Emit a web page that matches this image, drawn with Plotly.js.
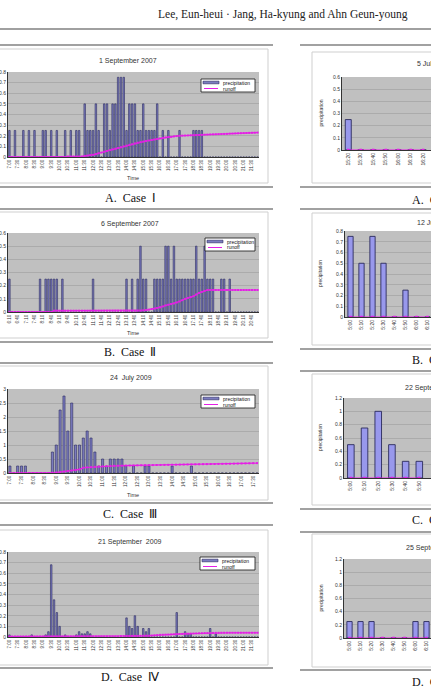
<!DOCTYPE html>
<html><head><meta charset="utf-8">
<script src="https://cdn.plot.ly/plotly-3.0.1.min.js"></script>
<style>html,body{margin:0;padding:0;overflow:hidden;background:#fff;width:431px;height:686px}#chart{width:600px;height:686px}</style>
</head><body><div id="chart"></div><script>
// ---------- DATA ----------
function times(start, n, step){const p=start.split(':').map(Number);const t=p[0]*60+p[1];const o=[];for(let i=0;i<n;i++){const v=t+i*step;o.push(Math.floor(v/60)+':'+String(v%60).padStart(2,'0'));}return o;}

// Case I : 1 September 2007
const catA = times('7:00', 90, 10);
const ticksA = ['7:00','7:30','8:00','8:30','9:00','9:30','10:00','10:30','11:00','11:30','12:00','12:30','13:00','13:30','14:00','14:30','15:00','15:30','16:00','16:30','17:00','17:30','18:00','18:30','19:00','19:30','20:00','20:30','21:00','21:30'];
const precA = [.25,0,.25,0,0,.25,0,.25,0,.25, 0,0,.25,.25,0,.25,0,.25,0,0, .25,0,.25,0,.25,.25,0,.5,.25,.25,
 .25,.5,.25,0,.5,.5,.25,.5,.5,.75, .75,.75,.25,.5,.5,.5,.25,.25,.5,.25, .25,.25,.25,.5,0,.25,0,.25,0,0,
 0,.25,0,0,0,0,.25,.25,.25,.25, 0,0,0,0,0,0,0,0,0,0, 0,0,0,0,0,0,0,0,0,0];
const runA = [0,0,0,0,0,0,0,0,0,0, 0,0,0,0,0,0,0,0,0,0, 0,.005,.005,.005,.005,.005,.005,.01,.013,.017,
 .02,.027,.035,.042,.05,.057,.065,.072,.078,.085, .092,.1,.107,.114,.12,.128,.135,.14,.145,.15,
 .155,.16,.165,.17,.175,.18,.185,.188,.19,.194, .197,.2,.201,.202,.203,.204,.205,.206,.207,.208,
 .21,.211,.212,.213,.214,.215,.216,.217,.218,.22, .221,.222,.223,.224,.225,.226,.227,.228,.229,.23];

// Case II : 6 September 2007
const catB = times('6:10', 90, 10);
const ticksB = ['6:10','6:40','7:10','7:40','8:10','8:40','9:10','9:40','10:10','10:40','11:10','11:40','12:10','12:40','13:10','13:40','14:10','14:40','15:10','15:40','16:10','16:40','17:10','17:40','18:10','18:40','19:10','19:40','20:10','20:40'];
const precB = [.25,0,0,0,0,0,0,0,0,0, 0,.25,0,.25,.25,.25,.25,.25,0,.25, 0,0,0,0,0,0,0,0,0,0,
 .25,0,0,0,0,0,0,0,0,0, 0,0,.25,0,.25,0,.25,.5,.25,.25, 0,0,.25,.25,.25,.25,.5,.5,.25,.5,
 .25,.25,.25,.25,.25,.25,.25,.5,.25,.25, .5,.25,.25,.25,0,0,.25,.25,0,.25, 0,0,0,0,0,0,0,0,0,0];
const runB = [0,0,0,0,0,0,0,0,0,0, 0,0,0,0,0,0,.01,.01,.01,.01, .01,.01,.01,.01,.01,.01,.01,.01,.01,.01,
 .01,.01,.01,.01,.01,.01,.01,.01,.01,.01, .01,.01,.01,.01,.01,.01,.01,.01,.012,.015,
 .018,.022,.025,.03,.035,.042,.05,.055,.06,.065, .072,.08,.09,.1,.107,.113,.12,.133,.145,.153,
 .16,.167,.167,.167,.167,.167,.167,.167,.167,.167, .167,.167,.167,.167,.167,.167,.167,.167,.167,.167];

// Case III : 24 July 2009
const catC = times('7:00', 65, 10);
const ticksC = ['7:00','7:30','8:00','8:30','9:00','9:30','10:00','10:30','11:00','11:30','12:00','12:30','13:00','13:30','14:00','14:30','15:00','15:30','16:00','16:30','17:00','17:30'];
const precC = [.25,0,.25,.25,.25,0,0,0,0,0, 0,.75,1,2.25,2.75,1.5,2.5,1,1,1.25, 1.5,1.25,.75,.25,.5,.25,.5,.5,.5,.5,
 .25,0,.25,0,0,.25,.25,0,0,0, 0,0,.25,0,0,0,0,.25,0,0, 0,0,0,0,0,0,0,0,0,0, 0,0,0,0,0];
const runC = [0,0,0,0,0,0,0,0,0,0, 0,.01,.02,.035,.05,.07,.09,.11,.13,.19, .2,.21,.22,.23,.24,.245,.25,.255,.26,.262,
 .265,.268,.27,.272,.275,.277,.28,.282,.285,.287, .29,.292,.295,.297,.3,.302,.305,.307,.31,.312,
 .315,.317,.32,.322,.325,.327,.33,.332,.335,.337, .34,.343,.346,.35,.353];

// Case IV : 21 September 2009
const catD = times('7:00', 90, 10);
const ticksD = ticksA.slice();
const precD = [.02,0,0,0,0,0,0,0,.02,0, 0,0,0,.02,.05,.68,.35,.23,.1,0, .02,0,0,0,.02,.05,.03,.03,.05,.03,
 0,0,0,0,0,0,0,0,0,0, 0,0,.18,.1,.08,.2,.1,0,.08,.05, .08,0,0,0,0,0,0,0,0,0,
 .23,0,0,.05,.03,.03,0,0,0,0, 0,0,.08,0,.03,0,0,0,0,0, 0,0,0,0,0,0,0,0,0,0];
const runD = [.005,.005,.005,.005,.005,.005,.005,.005,.005,.005, .005,.005,.005,.005,.005,.005,.005,.005,.005,.005,
 .005,.005,.005,.005,.005,.005,.005,.005,.005,.005, .005,.005,.005,.005,.005,.005,.005,.005,.005,.005,
 .008,.008,.009,.009,.01,.01,.01,.011,.011,.012, .012,.014,.016,.018,.02,.021,.022,.023,.024,.025,
 .027,.028,.029,.03,.031,.032,.033,.034,.035,.036, .037,.037,.038,.038,.039,.039,.04,.04,.04,.04,
 .04,.04,.04,.04,.04,.04,.04,.04,.04,.04];

// right column cases
const catRA = ['15:20','15:30','15:40','15:50','16:00','16:10','16:20'];
const precRA = [0.25,0,0,0,0,0,0];
const runRA = [0,0,0,0,0,0,0];
const catRB = ['5:00','5:10','5:20','5:30','5:40','5:50','6:00','6:10'];
const precRB = [0.75,0.5,0.75,0.5,0,0.25,0,0];
const runRB = [0,0,0,0,0,0,0,0];
const catRC = ['5:00','5:10','5:20','5:30','5:40','5:50'];
const precRC = [0.5,0.75,1.0,0.5,0.25,0.25];
const runRC = [0,0,0,0,0,0];
const catRD = ['5:00','5:10','5:20','5:30','5:40','5:50','6:00','6:10'];
const precRD = [0.25,0.25,0.25,0,0,0,0.25,0.25];
const runRD = [0,0,0,0,0,0,0,0];

const titlesLeft = ['1 September 2007','6 September 2007','24  July 2009','21 September  2009'];
const captionsLeft = ['A.  Case  Ⅰ','B.  Case  Ⅱ','C.  Case  Ⅲ','D.  Case  Ⅳ'];
const titlesRight = ['5 July 2010','12 July 2010','22 September 2010','25 September 2010'];
const captionsRight = ['A.  Case  Ⅴ','B.  Case  Ⅵ','C.  Case  Ⅶ','D.  Case  Ⅷ'];
const header = 'Lee, Eun-heui · Jang, Ha-kyung and Ahn Geun-young';

// ---------- LAYOUT ----------
const W=600, H=686;
const X=p=>p/W, Y=p=>1-p/H;
const SANS='Liberation Sans, Arial, sans-serif', SERIF='Liberation Serif, Times New Roman, serif';
const BARFILL='#7c7cc0', BARLINE='#2a2a5c', BARFILL_R='#9898ec', RUN='#e61ee6';

const panels = [
 {cats:catA, prec:precA, run:runA, ticks:ticksA, x0:8, x1:259, top:72, bot:157, ymax:.8, dt:.1, bw:.55, side:'L', title:titlesLeft[0], ty:61, tx:128, leg:[201,255,79,92], time:178},
 {cats:catB, prec:precB, run:runB, ticks:ticksB, x0:8, x1:259, top:233, bot:312, ymax:.6, dt:.1, bw:.55, side:'L', title:titlesLeft[1], ty:224, tx:130, leg:[205,255,238,251], time:333},
 {cats:catC, prec:precC, run:runC, ticks:ticksC, x0:8, x1:259, top:389, bot:473, ymax:3, dt:.5, bw:.55, side:'L', title:titlesLeft[2], ty:378, tx:131, leg:[201,255,395,408], time:495},
 {cats:catD, prec:precD, run:runD, ticks:ticksD, x0:8, x1:259, top:552, bot:637, ymax:.8, dt:.1, bw:.55, side:'L', title:titlesLeft[3], ty:542, tx:130, leg:[200,255,557,570], time:null},
 {cats:catRA, prec:precRA, run:runRA, ticks:catRA, x0:342, x1:517, n:14, top:77, bot:150, ymax:.6, dt:.1, bw:.48, side:'R', title:titlesRight[0], ty:64, tx:415},
 {cats:catRB, prec:precRB, run:runRB, ticks:catRB, x0:345, x1:521, n:16, top:231, bot:317, ymax:.8, dt:.1, bw:.48, side:'R', title:titlesRight[1], ty:223, tx:415},
 {cats:catRC, prec:precRC, run:runRC, ticks:catRC, x0:344, x1:522, n:13, top:398, bot:478, ymax:1.2, dt:.2, bw:.48, side:'R', title:titlesRight[2], ty:388, tx:403},
 {cats:catRD, prec:precRD, run:runRD, ticks:catRD, x0:344, x1:520, n:16, top:559, bot:638, ymax:1.2, dt:.2, bw:.48, side:'R', title:titlesRight[3], ty:548, tx:404}
];

const data=[]; const layout={width:W,height:H,margin:{l:0,r:0,t:0,b:0},paper_bgcolor:'#fff',plot_bgcolor:'#c0c0c0',showlegend:false,font:{family:SANS,color:'#222'},shapes:[],annotations:[]};
const shp=(o)=>layout.shapes.push(Object.assign({xref:'paper',yref:'paper'},o));
const ann=(o)=>layout.annotations.push(Object.assign({xref:'paper',yref:'paper',showarrow:false},o));

panels.forEach((p,i)=>{
  const k=i+1, xs='x'+(k>1?k:''), ys='y'+(k>1?k:'');
  const L = p.side==='L';
  data.push({type:'bar',x:p.cats,y:p.prec,xaxis:xs,yaxis:ys,width:p.bw,marker:{color:L?BARFILL:BARFILL_R,line:{color:BARLINE,width:L?0.6:0.9}},hoverinfo:'skip'});
  data.push({type:'scatter',mode:'lines+markers',x:p.cats,y:p.run,xaxis:xs,yaxis:ys,line:{color:RUN,width:1.1},marker:{color:RUN,size:L?2:2.5,symbol:'square'},hoverinfo:'skip'});
  const n = p.n || p.cats.length;
  layout['xaxis'+(k>1?k:'')]={domain:[X(p.x0),X(p.x1)],anchor:ys,type:'category',range:[-0.5,n-0.5],tickmode:'array',tickvals:p.ticks,ticktext:p.ticks,tickangle:-90,tickfont:{size:L?4.5:5,color:'#333'},showgrid:false,showline:true,linecolor:'#333',linewidth:1,ticks:'',fixedrange:true,automargin:false};
  layout['yaxis'+(k>1?k:'')]={domain:[Y(p.bot),Y(p.top)],anchor:xs,range:[0,p.ymax],dtick:p.dt,tick0:0,showgrid:true,gridcolor:'#9c9c9c',gridwidth:0.6,zeroline:false,showline:true,linecolor:'#333',linewidth:1,ticks:'',tickfont:{size:5,color:'#333'},fixedrange:true,automargin:false};
  ann({x:X(p.tx),y:Y(p.ty),text:p.title,xanchor:L?'center':'left',yanchor:'middle',font:{size:7,family:SANS,color:'#333'}});
  if(L){
    const [a,b,c,d]=p.leg;
    shp({type:'rect',x0:X(a),x1:X(b),y0:Y(c),y1:Y(d),fillcolor:'#fff',line:{color:'#111',width:0.8},layer:'above'});
    shp({type:'rect',x0:X(a+2),x1:X(a+18),y0:Y(c+2.2),y1:Y(c+4.8),fillcolor:BARFILL,line:{color:BARLINE,width:0.6},layer:'above'});
    shp({type:'line',x0:X(a+3),x1:X(a+17),y0:Y(c+9.5),y1:Y(c+9.5),line:{color:RUN,width:1},layer:'above'});
    ann({x:X(a+19.5),y:Y(c+3.6),text:'precipitation',xanchor:'left',yanchor:'middle',font:{size:5,color:'#111'}});
    ann({x:X(a+19.5),y:Y(c+9.5),text:'runoff',xanchor:'left',yanchor:'middle',font:{size:5,color:'#111'}});
    if(p.time) ann({x:X(133),y:Y(p.time),text:'Time',xanchor:'center',yanchor:'middle',font:{size:5.5,color:'#333'}});
  } else {
    ann({x:X(320),y:Y((p.top+p.bot)/2),text:'precipitation',textangle:-90,xanchor:'center',yanchor:'middle',font:{size:5,color:'#333'}});
  }
});

// header and page rules
ann({x:X(410),y:Y(15),text:header,xanchor:'right',yanchor:'middle',font:{size:11.5,family:SERIF,color:'#222'}});
shp({type:'line',x0:0,x1:1,y0:Y(29),y1:Y(29),line:{color:'#a0a0a0',width:2}});
const leftRules=[45,187,209,342,363,503,525,668];
leftRules.forEach(y=>shp({type:'line',x0:0,x1:X(273),y0:Y(y),y1:Y(y),line:{color:'#444',width:1.2}}));
const rightRules=[45,187,209,349,371,509,532,670];
rightRules.forEach(y=>shp({type:'line',x0:X(300),x1:1,y0:Y(y),y1:Y(y),line:{color:'#444',width:1.2}}));
const leftFrames=[[49,183],[212,338],[366,500],[530,665]];
leftFrames.forEach(f=>shp({type:'rect',x0:X(-2),x1:X(268),y0:Y(f[1]),y1:Y(f[0]),line:{color:'#cfcfcf',width:1},layer:'below'}));
const rightFrames=[[52,183],[213,345],[374,505],[534,667]];
rightFrames.forEach(f=>shp({type:'rect',x0:X(312),x1:X(580),y0:Y(f[1]),y1:Y(f[0]),line:{color:'#cfcfcf',width:1},layer:'below'}));
const capLY=[198,352,514,677], capRY=[200,360,520,682];
captionsLeft.forEach((t,i)=>ann({x:X(130),y:Y(capLY[i]),text:t,xanchor:'center',yanchor:'middle',font:{size:12,family:SERIF,color:'#111'}}));
captionsRight.forEach((t,i)=>ann({x:X(410),y:Y(capRY[i]),text:t,xanchor:'left',yanchor:'middle',font:{size:12,family:SERIF,color:'#111'}}));

Plotly.newPlot('chart',data,layout,{staticPlot:true,displayModeBar:false});
</script></body></html>
